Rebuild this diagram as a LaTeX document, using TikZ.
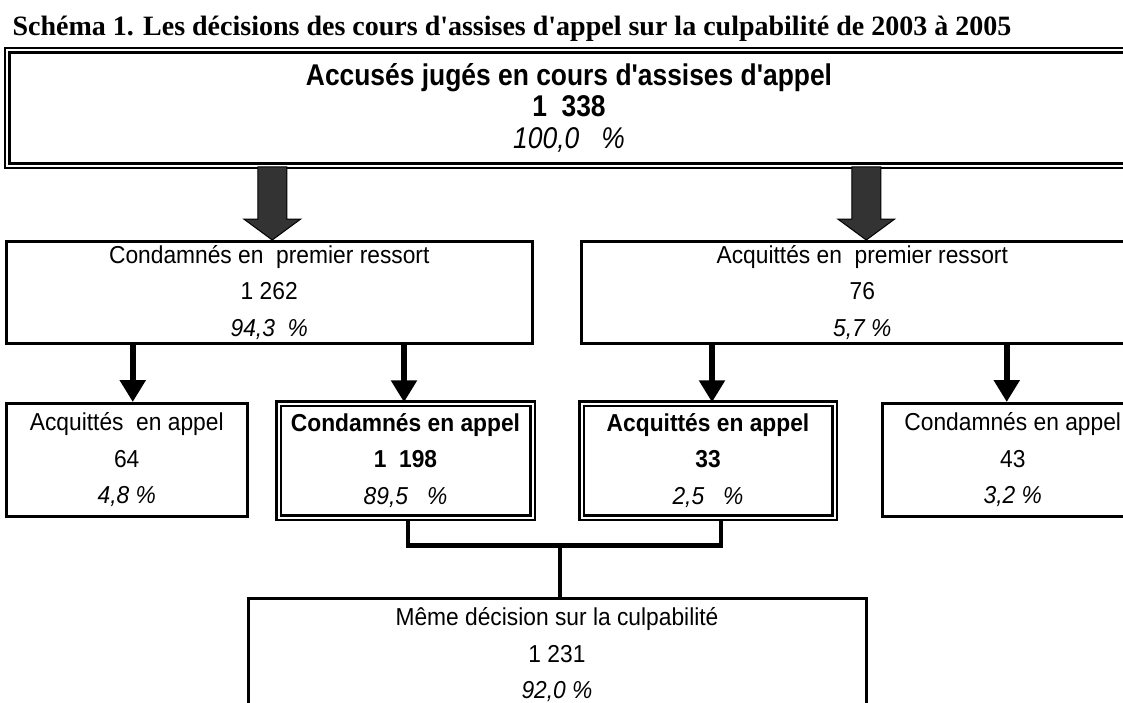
\documentclass[tikz,border=0pt]{standalone}
\usepackage{fontspec}
\newfontfamily\cellfamily{Liberation Sans}[FakeStretch=0.93]
\newfontfamily\headfamily{Liberation Sans}[FakeStretch=0.88]
\newfontfamily\titlefont{Liberation Serif}
\usetikzlibrary{arrows.meta}

\newcommand\cellfont{\cellfamily\fontsize{24.5}{36.5}\selectfont}
\newcommand\headfont{\headfamily\fontsize{30}{31.5}\selectfont\bfseries}
\newcommand\pct[1]{\textit{\mdseries #1}}

\tikzset{
  box/.style={draw, line width=3pt, align=center, inner sep=0pt, font=\cellfont},
  dbox/.style={box, line width=2.5pt, double, double distance=2pt},
  bigarrow/.style={draw=black, line width=1pt, fill=black!80},
  smallarrow/.style={line width=6pt, -{Triangle[width=25pt,length=22pt]}},
  link/.style={line width=4.5pt}
}

\begin{document}
\begin{tikzpicture}[x=1pt, y=1pt]
\useasboundingbox (0,0) rectangle (1123,-702);

\node[anchor=base west, font=\titlefont\bfseries\fontsize{28}{32}\selectfont] (title) at (9,-35)
  {Schéma 1. Les décisions des cours d'assises d'appel sur la culpabilité de 2003 à 2005};

% head box
\node[dbox, font=\headfont, minimum width=1124pt, minimum height=115.5pt] (top) at (569,-107.75)
  {Accusés jugés en cours d'assises d'appel\\1\ \ 338\\\pct{100,0\ \ \ \%}};

% first instance
\node[box, minimum width=525.5pt, minimum height=102pt] (c1) at (269.25,-292.5)
  {Condamnés en\ \ premier ressort\\1 262\\\pct{94,3\ \ \%}};
\node[box, minimum width=561.5pt, minimum height=102pt] (a1) at (862.25,-292.5)
  {Acquittés en\ \ premier ressort\\76\\\pct{5,7 \%}};

% appeal
\node[box, minimum width=240.5pt, minimum height=113pt] (a2) at (126.75,-460)
  {Acquittés\ \ en appel\\64\\\pct{4,8 \%}};
\node[dbox, font=\cellfont\bfseries, minimum width=254pt, minimum height=114pt] (c2) at (405.5,-460.5)
  {Condamnés en appel\\1\ \ 198\\\pct{89,5\ \ \ \%}};
\node[dbox, font=\cellfont\bfseries, minimum width=253pt, minimum height=114pt] (a3) at (708,-460.5)
  {Acquittés en appel\\33\\\pct{2,5\ \ \ \%}};
\node[box, minimum width=260.5pt, minimum height=113pt] (c3) at (1012.75,-460)
  {Condamnés en appel\\43\\\pct{3,2 \%}};

\node[box, minimum width=618pt, minimum height=114pt] (same) at (557,-655)
  {Même décision sur la culpabilité\\1 231\\\pct{92,0 \%}};

% block arrows
\coordinate (t1) at ([xshift=3pt]c1.north);
\coordinate (t2) at ([xshift=4pt]a1.north);
\foreach \t in {t1,t2}
  \draw[bigarrow] ([xshift=-14.5pt]\t |- top.south) -- ([xshift=-14.5pt,yshift=21pt]\t)
    -- ([xshift=-28.5pt,yshift=21pt]\t) -- (\t) -- ([xshift=28.5pt,yshift=21pt]\t)
    -- ([xshift=14.5pt,yshift=21pt]\t) -- ([xshift=14.5pt]\t |- top.south) -- cycle;

% arrows to the appeal boxes
\foreach \from/\to/\dx in {c1/a2/6pt, c1/c2/-1.5pt, a1/a3/4pt, a1/c3/-6pt}
  \draw[smallarrow] ([xshift=\dx]\to.north |- \from.south) -- ([xshift=\dx]\to.north);

% same decision
\draw[link] ([xshift=2.5pt]c2.south) -- ++(0,-26.5) coordinate (jl) -| ([xshift=13pt]a3.south);
\draw[link] ([xshift=3pt]same.north) -- ([xshift=3pt]same.north |- jl);
\end{tikzpicture}
\end{document}
